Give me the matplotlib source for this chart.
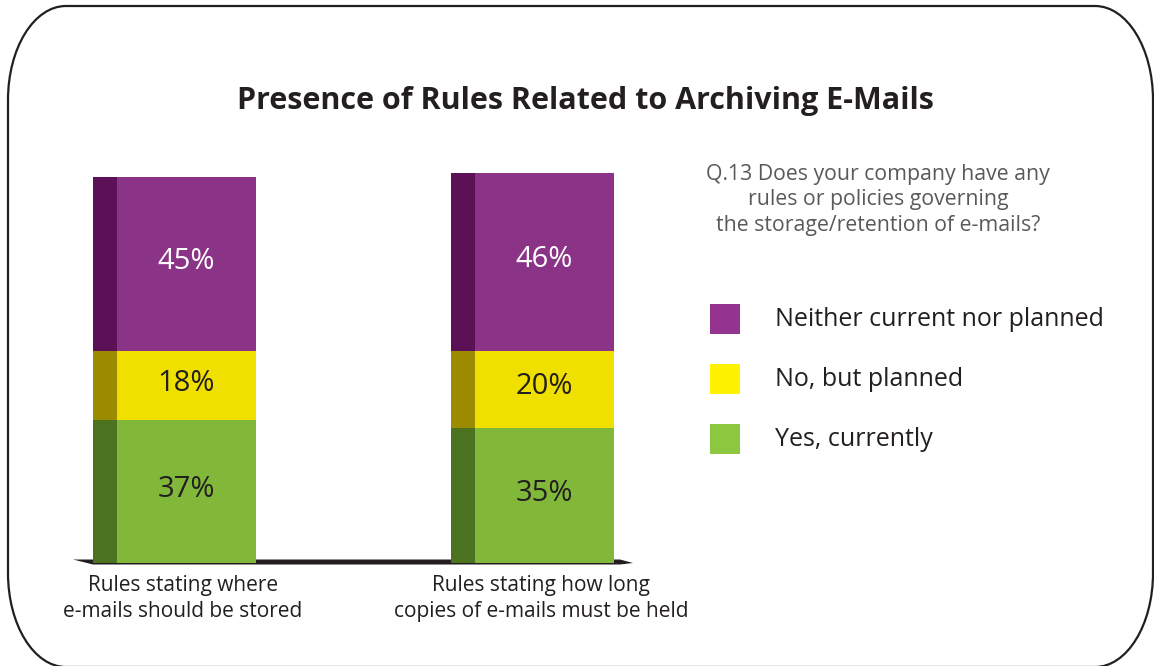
import matplotlib.pyplot as plt
from matplotlib.patches import PathPatch, Polygon, Rectangle
from matplotlib.path import Path

plt.rcParams["font.family"] = ["Open Sans", "DejaVu Sans"]

# Datos de la encuesta (porcentajes por pregunta)
categorias = [
    "Rules stating where\ne-mails should be stored",
    "Rules stating how long\ncopies of e-mails must be held",
]
series = ["Yes, currently", "No, but planned", "Neither current nor planned"]
si_actualmente = [37, 35]
planeado = [18, 20]
ninguno = [45, 46]
valores = [si_actualmente, planeado, ninguno]

color_claro = ["#82b83a", "#f0e000", "#8b3386"]
color_oscuro = ["#4b731f", "#9a8b00", "#5c1055"]
color_leyenda = ["#8dc63f", "#fff200", "#943490"]
color_etiqueta = ["#231f20", "#231f20", "white"]

TEXTO = "#231f20"
W, H = 1154, 666


def rectangulo_redondeado(x0, y0, x1, y1, rx, ry):
    """Camino de un rectángulo con esquinas elípticas (coordenadas con y hacia abajo)."""
    k = 0.5523
    v = [
        (x0 + rx, y0), (x1 - rx, y0),
        (x1 - rx + k * rx, y0), (x1, y0 + ry - k * ry), (x1, y0 + ry),
        (x1, y1 - ry),
        (x1, y1 - ry + k * ry), (x1 - rx + k * rx, y1), (x1 - rx, y1),
        (x0 + rx, y1),
        (x0 + rx - k * rx, y1), (x0, y1 - ry + k * ry), (x0, y1 - ry),
        (x0, y0 + ry),
        (x0, y0 + ry - k * ry), (x0 + rx - k * rx, y0), (x0 + rx, y0),
    ]
    c = [Path.MOVETO, Path.LINETO,
         Path.CURVE4, Path.CURVE4, Path.CURVE4,
         Path.LINETO,
         Path.CURVE4, Path.CURVE4, Path.CURVE4,
         Path.LINETO,
         Path.CURVE4, Path.CURVE4, Path.CURVE4,
         Path.LINETO,
         Path.CURVE4, Path.CURVE4, Path.CURVE4]
    return Path(v, c)


fig = plt.figure(figsize=(W / 100, H / 100), dpi=100)
fig.patch.set_facecolor("white")

# Capa de fondo en píxeles: marco, títulos, leyenda y sombra de la base
fondo = fig.add_axes([0, 0, 1, 1])
fondo.set_xlim(0, W)
fondo.set_ylim(H, 0)
fondo.axis("off")

fondo.add_patch(PathPatch(rectangulo_redondeado(8, 6, 1153, 667, 58, 94),
                          facecolor="none", edgecolor=TEXTO, linewidth=1.6))

fondo.add_patch(Polygon([(73, 559.5), (620, 559.5), (633, 563), (620, 564.5), (93, 564.5)],
                        closed=True, facecolor=TEXTO, edgecolor="none"))

fondo.text(585, 101, "Presence of Rules Related to Archiving E-Mails",
           ha="center", va="center", fontsize=22, fontweight="bold", color=TEXTO)

fondo.text(878, 200,
           "Q.13 Does your company have any\nrules or policies governing\nthe storage/retention of e-mails?",
           ha="center", va="center", fontsize=15.3, color="#58595b", linespacing=1.3)

# Leyenda (de arriba abajo: morado, amarillo, verde)
for i, idx in enumerate([2, 1, 0]):
    yc = 319 + 60 * i
    fondo.add_patch(Rectangle((710, yc - 15), 30, 30, facecolor=color_leyenda[idx],
                              edgecolor="none"))
    fondo.text(775, yc, series[idx], ha="left", va="center", fontsize=18, color=TEXTO)

# Barras apiladas
ax = fig.add_axes([60 / W, (H - 563) / H, 600 / W, 424.6 / H])
ax.set_xlim(-0.3534, 1.3226)
ax.set_ylim(0, 110)
ax.axis("off")

x = [0, 1]
ancho = 139 / 358
franja = 24 / 358
desplazamiento = -(ancho / 2 + franja / 2)

base = [0, 0]
for vals, claro, oscuro, cet in zip(valores, color_claro, color_oscuro, color_etiqueta):
    ax.bar(x, vals, ancho, bottom=base, color=claro, linewidth=0, zorder=3)
    ax.bar([xi + desplazamiento for xi in x], vals, franja, bottom=base,
           color=oscuro, linewidth=0, zorder=3)
    for xi, b, v in zip(x, base, vals):
        ax.text(xi, b + v / 2 + 0.6, f"{v}%", ha="center", va="center",
                fontsize=21, color=cet, zorder=4)
    base = [b + v for b, v in zip(base, vals)]

for xi, cat in zip(x, categorias):
    ax.text(xi - 0.01, -9.2, cat, ha="center", va="center", fontsize=15,
            color=TEXTO, linespacing=1.3)

fig.savefig("out.png", dpi=100)
